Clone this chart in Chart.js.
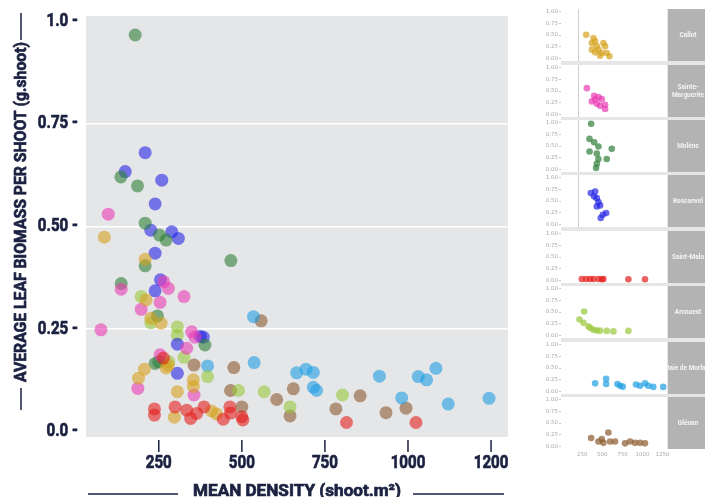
<!DOCTYPE html>
<html><head><meta charset="utf-8">
<script src="https://cdn.jsdelivr.net/npm/chart.js@4.4.1/dist/chart.umd.min.js"></script>
<style>
html,body{margin:0;padding:0;background:#fff;width:705px;height:497px;overflow:hidden}
#wrap{position:relative;width:705px;height:497px}
#main{position:absolute;left:0;top:0}
.mini{position:absolute;left:530px}
#gapbg{position:absolute;left:561px;top:9px;width:144px;height:440px;background:#e6e6e6}
</style></head><body>
<div id="wrap">
<canvas id="main" width="705" height="497"></canvas>
<div id="gapbg"></div>
</div>
<script>
// ---------- DATA ----------
const SITES = ['Callot','Sainte-\nMarguerite','Molène','Roscanvel','Saint-Malo','Arcouest','Baie de Morlaix','Glénan'];
const COLORS = ['#d6a21e','#e83cb4','#2d7f37','#2626e6','#e4201c','#98c83a','#1f9fe3','#8a5a2e'];

const xTicks = [250,500,750,1000,1250];
const xTickLabels = ['250','500','750','1000','1200'];
const yTicks = [0,0.25,0.5,0.75,1];
const yTickLabels = ['0.0 -','0.25 -','0.50 -','0.75 -','1.0 -'];
const miniYTickLabels = ['0.00','0.25','0.50','0.75','1.00'];
const miniXTickLabels = ['250','500','750','1000','1250'];
const X_TITLE = 'MEAN DENSITY (shoot.m²)';
const Y_TITLE = 'AVERAGE LEAF BIOMASS PER SHOOT (g.shoot)';

// main scatter values (density, biomass)
const callotX = [86,209,212,226,257,279,272,207,189,354,354,306,297,409,424];
const callotY = [0.474,0.42,0.321,0.276,0.264,0.162,0.155,0.152,0.13,0.126,0.11,0.097,0.035,0.05,0.043];
const margX = [98,137,265,279,326,254,197,76,349,359,334,254,187,356];
const margY = [0.53,0.347,0.365,0.349,0.329,0.315,0.298,0.248,0.243,0.23,0.203,0.187,0.105,0.089];
const moleneX = [179,136,186,209,252,272,209,467,137,246,389,239,250];
const moleneY = [0.967,0.621,0.599,0.508,0.479,0.467,0.404,0.417,0.361,0.282,0.211,0.166,0.17];
const roscX = [209,149,259,239,226,289,309,239,255,239,375,384,306,306];
const roscY = [0.68,0.634,0.613,0.555,0.491,0.487,0.471,0.435,0.37,0.343,0.232,0.23,0.213,0.142];
const maloX = [264,237,237,299,334,346,364,386,444,464,466,500,503,815,1024];
const maloY = [0.179,0.055,0.04,0.06,0.052,0.032,0.044,0.06,0.03,0.06,0.045,0.036,0.028,0.022,0.022];
const arcX = [197,226,306,306,326,280,397,490,567,645,803];
const arcY = [0.329,0.265,0.255,0.235,0.181,0.17,0.134,0.1,0.097,0.06,0.089];
const baieX = [535,537,397,665,693,715,715,725,914,981,1031,1056,1084,1121,1244];
const baieY = [0.28,0.168,0.16,0.143,0.152,0.144,0.108,0.1,0.135,0.082,0.134,0.126,0.154,0.067,0.081];
const glenX = [558,356,476,466,500,605,655,645,783,856,934,994];
const glenY = [0.27,0.162,0.156,0.1,0.06,0.078,0.104,0.038,0.055,0.087,0.046,0.057];

// small-multiple panel values
const mCallotX = [298,389,369,410,431,369,451,534,493,555,588,472,410,513];
const mCallotY = [0.505,0.435,0.33,0.365,0.26,0.19,0.19,0.26,0.12,0.12,0.05,0.063,0.133,0.33];
const mMargX = [307,398,451,493,369,431,472,534,534,410];
const mMargY = [0.56,0.4,0.37,0.33,0.28,0.23,0.19,0.21,0.12,0.32];
const mMoleneX = [360,340,398,451,340,431,617,555,451,431,422];
const mMoleneY = [0.97,0.65,0.58,0.49,0.385,0.34,0.44,0.225,0.225,0.126,0.035];
const mRoscX = [356,410,398,431,451,431,472,505,547,480];
const mRoscY = [0.667,0.7,0.596,0.56,0.478,0.386,0.407,0.21,0.246,0.14];
const mMaloX = [245,298,348,389,451,493,513,824,1031];
const mMaloY = [0.035,0.035,0.035,0.035,0.035,0.03,0.035,0.03,0.03];
const mArcX = [273,215,265,327,350,389,430,472,555,638,824];
const mArcY = [0.51,0.34,0.27,0.196,0.16,0.126,0.11,0.105,0.1,0.09,0.1];
const mBaieX = [410,547,547,687,720,754,919,969,1031,1072,1134,1258];
const mBaieY = [0.175,0.27,0.16,0.16,0.126,0.105,0.15,0.126,0.175,0.126,0.1,0.1];
const mGlenX = [360,575,493,451,513,596,658,783,845,907,969,1031];
const mGlenY = [0.183,0.3,0.16,0.11,0.08,0.11,0.11,0.07,0.11,0.08,0.08,0.07];

const mainX = [callotX,margX,moleneX,roscX,maloX,arcX,baieX,glenX];
const mainY = [callotY,margY,moleneY,roscY,maloY,arcY,baieY,glenY];
const miniX = [mCallotX,mMargX,mMoleneX,mRoscX,mMaloX,mArcX,mBaieX,mGlenX];
const miniY = [mCallotY,mMargY,mMoleneY,mRoscY,mMaloY,mArcY,mBaieY,mGlenY];

// ---------- STYLE ----------
const FONT = 'Roboto,"Liberation Sans",sans-serif';
const NAVY = '#1b2141';
const PLOT_BG = '#e5e6e8';
const CONDENSE = 0.84;
function rgba(hex,a){const n=parseInt(hex.slice(1),16);return `rgba(${n>>16},${(n>>8)&255},${n&255},${a})`;}
function pts(xs,ys){return xs.map((x,i)=>({x:x,y:ys[i]}));}
function condText(ctx,t,x,y,sx){ctx.save();ctx.translate(x,y);ctx.scale(sx,1);ctx.lineWidth=0.7;ctx.strokeText(t,0,0);ctx.fillText(t,0,0);ctx.restore();}

// ---------- MAIN CHART ----------
const mainDeco = {
  id:'mainDeco',
  beforeDraw(chart){
    const {ctx,chartArea:a}=chart;
    ctx.save();ctx.fillStyle=PLOT_BG;ctx.fillRect(a.left,a.top,a.right-a.left,a.bottom-a.top);ctx.restore();
  },
  afterDraw(chart){
    const {ctx,chartArea:a,scales:{x,y}}=chart;
    ctx.save();
    ctx.strokeStyle=NAVY;ctx.fillStyle=NAVY;ctx.lineWidth=1.5;
    // x tick marks + labels
    ctx.font='bold 18px '+FONT;ctx.textAlign='center';ctx.textBaseline='middle';
    xTicks.forEach((v,k)=>{const px=x.getPixelForValue(v);
      ctx.lineWidth=1.5;ctx.beginPath();ctx.moveTo(px,a.bottom+3);ctx.lineTo(px,a.bottom+15);ctx.stroke();
      condText(ctx,xTickLabels[k],px,463,CONDENSE);});
    // y tick labels
    ctx.textAlign='right';
    yTicks.forEach((v,k)=>{condText(ctx,yTickLabels[k],78,y.getPixelForValue(v),CONDENSE);});
    // x title
    ctx.font='bold 17px '+FONT;ctx.textAlign='center';ctx.textBaseline='alphabetic';
    const cx=(a.left+a.right)/2;
    let w=ctx.measureText(X_TITLE).width;let sx=208/w;
    condText(ctx,X_TITLE,cx,496,sx);
    ctx.lineWidth=1.5;
    ctx.beginPath();ctx.moveTo(88,494);ctx.lineTo(178,494);ctx.moveTo(413,494);ctx.lineTo(504,494);ctx.stroke();
    // y title
    ctx.translate(22,212);ctx.rotate(-Math.PI/2);
    ctx.textBaseline='middle';
    w=ctx.measureText(Y_TITLE).width;sx=340/w;
    condText(ctx,Y_TITLE,0,0,sx);
    ctx.lineWidth=1.5;
    ctx.beginPath();ctx.moveTo(-198,-1);ctx.lineTo(-176,-1);ctx.moveTo(172,-1);ctx.lineTo(199,-1);ctx.stroke();
    ctx.restore();
  }
};

new Chart(document.getElementById('main'),{
  type:'scatter',
  data:{datasets:SITES.map((s,i)=>({label:s,data:pts(mainX[i],mainY[i]),backgroundColor:rgba(COLORS[i],0.6),borderWidth:0,pointRadius:6.5,order:i===4?-1:i}))},
  options:{
    responsive:false,animation:false,devicePixelRatio:1,
    layout:{padding:{left:0,right:197,top:16,bottom:0}},
    plugins:{legend:{display:false},tooltip:{enabled:false}},
    scales:{
      x:{type:'linear',min:31,max:1301,
        afterBuildTicks:s=>{s.ticks=xTicks.map(v=>({value:v}));},
        afterFit:s=>{s.height=60;},
        grid:{display:false,drawTicks:false},border:{display:false},
        ticks:{display:false}},
      y:{type:'linear',min:-0.0134,max:1.0134,
        afterBuildTicks:s=>{s.ticks=yTicks.map(v=>({value:v}));},
        afterFit:s=>{s.width=86;},
        grid:{drawTicks:false,lineWidth:1.5,color:c=>(c.tick&&c.tick.value>0&&c.tick.value<1)?'#ffffff':'rgba(0,0,0,0)'},
        border:{display:false},
        ticks:{display:false}}
    }
  },
  plugins:[mainDeco]
});

// ---------- SMALL MULTIPLES ----------
const wrap=document.getElementById('wrap');
const miniDeco={
  id:'miniDeco',
  beforeDraw(chart,args,opts){
    const {ctx,chartArea:a,width}=chart;
    ctx.save();
    ctx.fillStyle='#ffffff';ctx.fillRect(a.left,a.top,a.right-a.left,a.bottom-a.top);
    if(opts.vline){ctx.strokeStyle='#cfcfcf';ctx.lineWidth=1;ctx.beginPath();ctx.moveTo(a.left+17.5,a.top);ctx.lineTo(a.left+17.5,a.bottom);ctx.stroke();}
    const sx=a.right+1;
    ctx.fillStyle='#b3b3b3';ctx.fillRect(sx,a.top,width-sx,a.bottom-a.top);
    ctx.beginPath();ctx.rect(sx,a.top,width-sx,a.bottom-a.top);ctx.clip();
    ctx.fillStyle='#f4f4f4';ctx.font='bold 6.5px '+FONT;ctx.textAlign='center';ctx.textBaseline='middle';
    const lines=opts.label.split('\n');const cy=(a.top+a.bottom)/2;const lh=8;
    lines.forEach((l,k)=>ctx.fillText(l,sx+20,cy+(k-(lines.length-1)/2)*lh));
    ctx.restore();
  }
};
SITES.forEach((s,i)=>{
  const zero=59+55.4*i;
  const top=Math.round(zero-49.9);
  const last=i===SITES.length-1;
  const padT=8,plotH=52,xh=last?12:0,padB=last?2:8;
  const cv=document.createElement('canvas');
  cv.className='mini';cv.width=175;cv.height=padT+plotH+xh+padB;
  cv.style.top=(top-padT)+'px';
  wrap.appendChild(cv);
  new Chart(cv,{
    type:'scatter',
    data:{datasets:[{data:pts(miniX[i],miniY[i]),backgroundColor:rgba(COLORS[i],0.7),borderWidth:0,pointRadius:3.3}]},
    options:{
      responsive:false,animation:false,devicePixelRatio:1,
      layout:{padding:{left:0,right:38,top:padT,bottom:padB}},
      plugins:{legend:{display:false},tooltip:{enabled:false},miniDeco:{label:s,vline:i<4}},
      scales:{
        x:{type:'linear',min:-15,max:1305,display:last,
          afterBuildTicks:sc=>{sc.ticks=xTicks.map(v=>({value:v}));},
          afterFit:sc=>{sc.height=xh;},
          grid:{display:false,drawTicks:false},border:{display:false},
          ticks:{padding:2,color:'#aaaaaa',font:{family:'"DejaVu Sans",sans-serif',size:5.5},maxRotation:0,autoSkip:false,
            callback:(v)=>{const k=xTicks.indexOf(v);return k>=0?miniXTickLabels[k]:'';}}},
        y:{type:'linear',min:-0.05,max:1.05,
          afterBuildTicks:sc=>{sc.ticks=yTicks.map(v=>({value:v}));},
          afterFit:sc=>{sc.width=31;},
          grid:{drawOnChartArea:false,drawTicks:true,tickLength:2,tickColor:'#c8c8c8'},border:{display:false},
          ticks:{padding:1,color:'#aaaaaa',font:{family:'"DejaVu Sans",sans-serif',size:5.5},autoSkip:false,
            callback:(v)=>{const k=yTicks.indexOf(v);return k>=0?miniYTickLabels[k]:'';}}}
      }
    },
    plugins:[miniDeco]
  });
});
</script>
</body></html>
